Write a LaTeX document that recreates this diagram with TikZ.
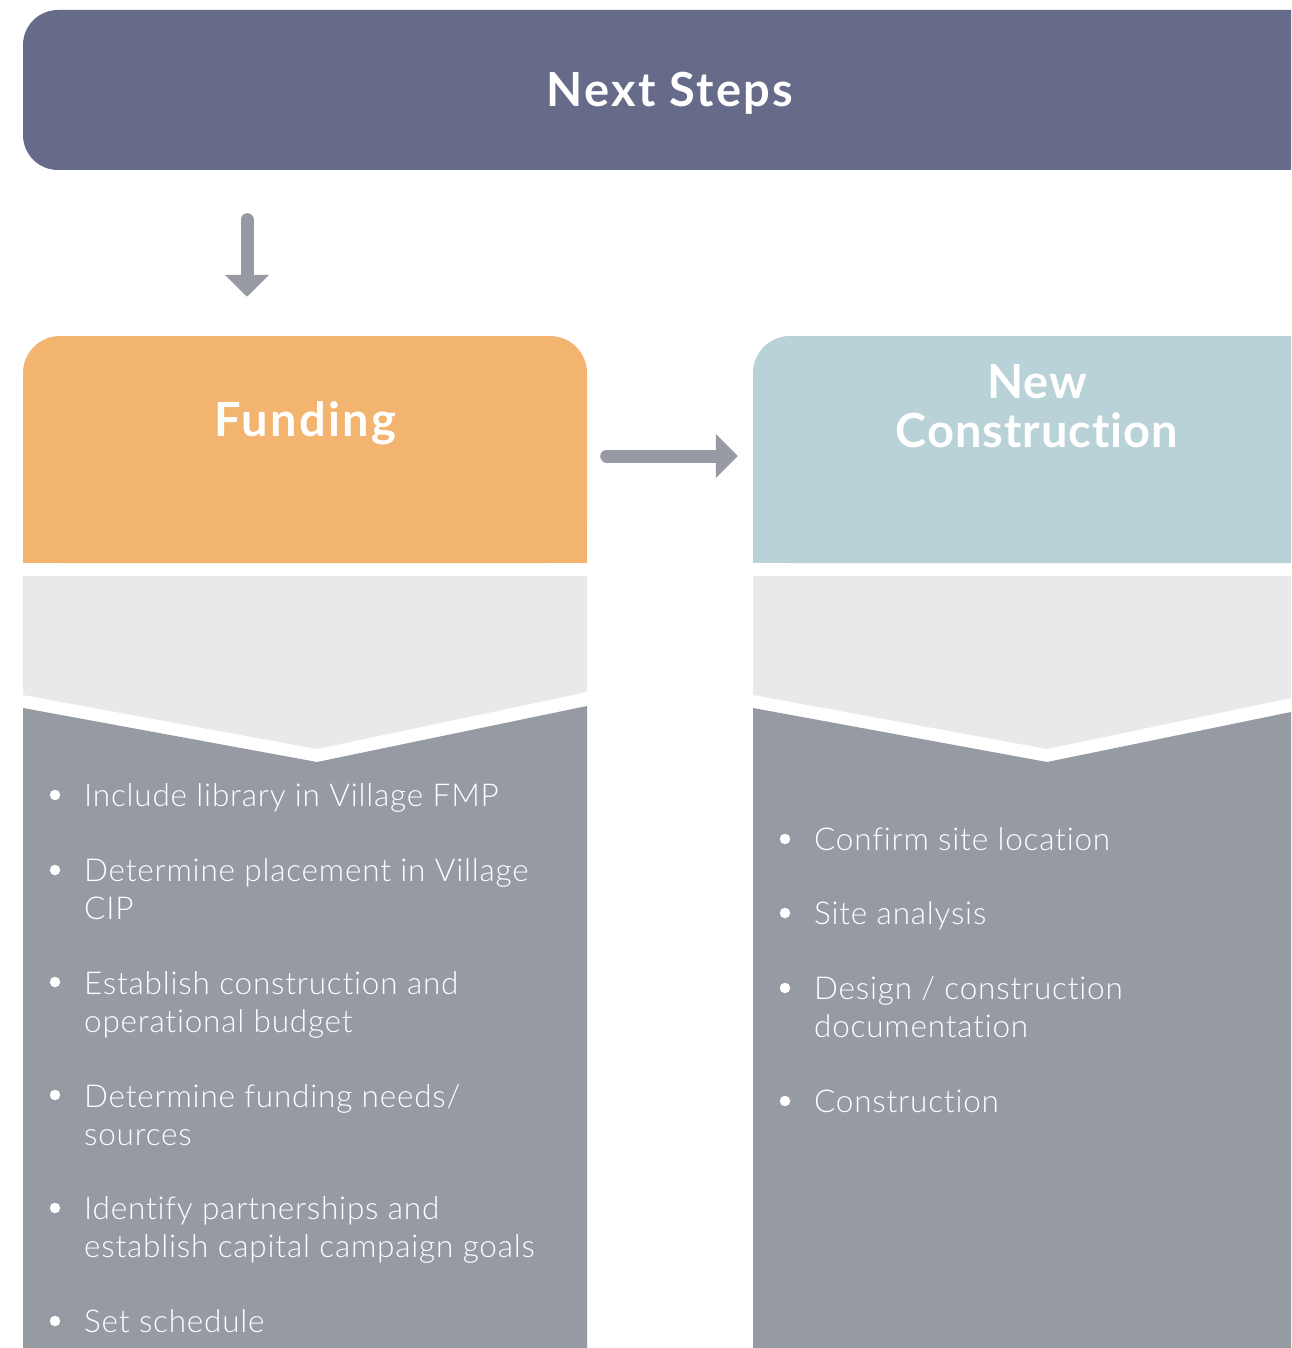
\documentclass[tikz,border=0pt]{standalone}
\usepackage{fontspec}
\setmainfont{Lato}
\newfontfamily\bodyfont{Lato Light}[LetterSpace=2.5,Ligatures=NoCommon]
\newfontfamily\titlefont{Lato}[LetterSpace=5,Ligatures=NoCommon]
\newfontfamily\titlefontb{Lato}[LetterSpace=2,Ligatures=NoCommon]
\usetikzlibrary{arrows.meta}
\definecolor{bannerc}{HTML}{666B8A}
\definecolor{fundc}{HTML}{F3B46F}
\definecolor{newc}{HTML}{B8D2D7}
\definecolor{lightc}{HTML}{E9E9EB}
\definecolor{darkc}{HTML}{969AA3}
\definecolor{arrowc}{HTML}{979AA3}
\tikzset{
  titletext/.style={text=white, font=\titlefont\fontsize{47}{49}\selectfont\bfseries, align=center, inner sep=0pt},
  itemtext/.style={text=white, font=\bodyfont\fontsize{31.5}{38}\selectfont, align=left, anchor=base west, inner sep=0pt},
  bul/.style={fill=white, circle, inner sep=0pt, minimum size=10.5pt},
  conn/.style={draw=arrowc, line width=13pt, line cap=round, -{Triangle[width=43pt,length=22pt]}},
  headbox/.style={rounded corners=37pt, minimum height=227pt, inner sep=0pt}
}
\begin{document}
\begin{tikzpicture}[x=1pt,y=-1pt]
\useasboundingbox (0,0) rectangle (1291,1348);
\clip (0,0) rectangle (1291,1348);

% banner
\node[fill=bannerc, rounded corners=35pt, minimum width=1360pt, minimum height=160pt, inner sep=0pt] (banner) at (703,90) {};
\node[titletext, anchor=base] (bannertitle) at (670,107) {Next Steps};

% headers
\node[headbox, fill=fundc, minimum width=564pt] (funding) at (305,449.5) {};
\fill[fundc] (23,480) rectangle (587,563);
\node[titletext, anchor=base] (fundingtitle) at (305,436) {Funding};

\node[headbox, fill=newc, minimum width=600pt] (newcon) at (1053,449.5) {};
\fill[newc] (753,480) rectangle (1291,563);
\node[titletext, font=\titlefontb\fontsize{47}{49}\selectfont\bfseries, anchor=base] (newcontitle) at (1037,447) {New\\Construction};

% chevron panels
\fill[lightc] (23,576) -- (587,576) -- (587,692) -- (317,749) -- (23,695) -- cycle;
\fill[darkc] (23,708) -- (317,762) -- (587,706) -- (587,1348) -- (23,1348) -- cycle;
\fill[lightc] (753,576) -- (1291,576) -- (1291,698) -- (1047,749) -- (753,695) -- cycle;
\fill[darkc] (753,708) -- (1047,762) -- (1291,712) -- (1291,1348) -- (753,1348) -- cycle;

% connectors
\coordinate (downx) at (247,0);
\coordinate (ay) at (0,456);
\draw[conn, shorten <=49.5pt, shorten >=39pt] (banner.south -| downx) -- (funding.north -| downx);
\draw[conn, shorten <=19.5pt, shorten >=15pt] (funding.east |- ay) -- (newcon.west |- ay);

% left items (base anchor = baseline of last line)
\node[bul] (lb1) at (55,795) {};
\node[itemtext] (li1) at (84,806) {Include library in Village FMP};
\node[bul] (lb2) at (55,870) {};
\node[itemtext] (li2) at (84,919) {Determine placement in Village\\CIP};
\node[bul] (lb3) at (55,982) {};
\node[itemtext] (li3) at (84,1032) {Establish construction and\\operational budget};
\node[bul] (lb4) at (55,1095) {};
\node[itemtext] (li4) at (84,1145) {Determine funding needs/\\sources};
\node[bul] (lb5) at (55,1208) {};
\node[itemtext] (li5) at (84,1257) {Identify partnerships and\\establish capital campaign goals};
\node[bul] (lb6) at (55,1321) {};
\node[itemtext] (li6) at (84,1332) {Set schedule};

% right items
\node[bul] (rb1) at (785,839) {};
\node[itemtext] (ri1) at (814,850) {Confirm site location};
\node[bul] (rb2) at (785,913) {};
\node[itemtext] (ri2) at (814,924) {Site analysis};
\node[bul] (rb3) at (785,988) {};
\node[itemtext] (ri3) at (814,1037) {Design / construction\\documentation};
\node[bul] (rb4) at (785,1101) {};
\node[itemtext] (ri4) at (814,1112) {Construction};
\end{tikzpicture}
\end{document}
